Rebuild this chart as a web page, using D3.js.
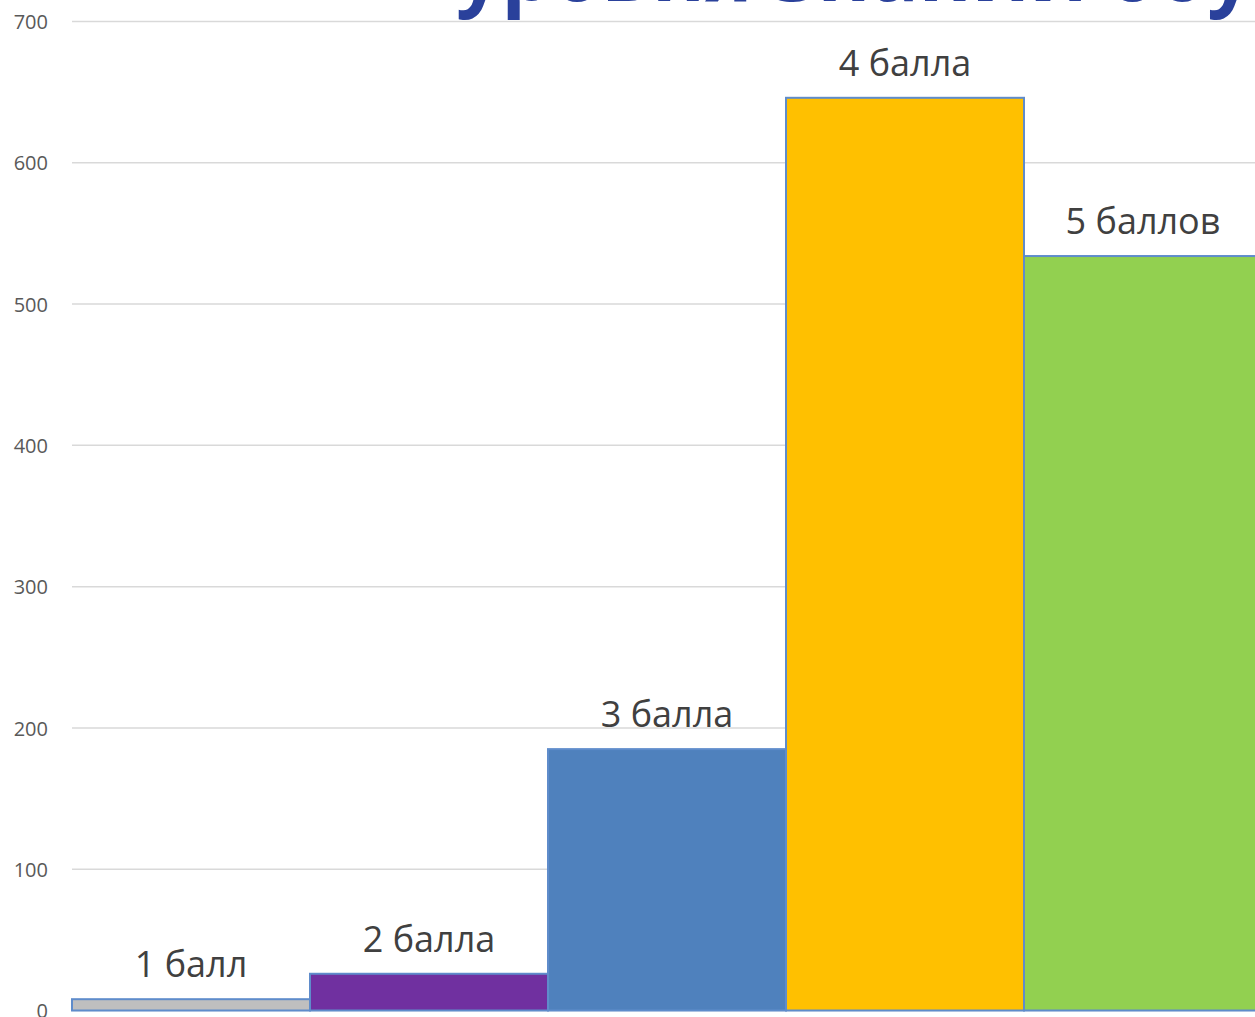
<!DOCTYPE html>
<html><head><meta charset="utf-8">
<script src="https://cdn.jsdelivr.net/npm/d3@7"></script>
<style>html,body{margin:0;padding:0;background:#fff;overflow:hidden}</style>
</head><body>
<svg id="c" width="1255" height="1017"></svg>
<script>
const categories = ["1 балл", "2 балла", "3 балла", "4 балла", "5 баллов"];
const values = [8, 26, 185, 646, 534];
const colors = ["#bfbfbf", "#7030a0", "#4f81bd", "#ffc000", "#92d050"];
const yTicks = [0, 100, 200, 300, 400, 500, 600, 700];
const titleText = "уровня знаний обу";

const svg = d3.select("#c");
const left = 72, bandW = 238;
const x = d3.scaleBand().domain(categories).range([left, left + bandW * categories.length]).padding(0);
const y = d3.scaleLinear().domain([0, 700]).range([1010.5, 21.5]);

// gridlines
svg.append("g").selectAll("line").data(yTicks).join("line")
  .attr("x1", left).attr("x2", 1255)
  .attr("y1", d => y(d)).attr("y2", d => y(d))
  .attr("stroke", "#d9d9d9").attr("stroke-width", 1.5);

// y axis labels
const yAxis = d3.axisLeft(y).tickValues(yTicks).tickSize(0).tickPadding(0);
const ga = svg.append("g").attr("transform", "translate(48,0)").call(yAxis);
ga.select(".domain").remove();
ga.selectAll("text").attr("font-family", "Open Sans, sans-serif").attr("font-size", 20)
  .attr("fill", "#595959").attr("text-anchor", "end").attr("dy", "0.36em");

// title (partially cut off at top)
svg.append("text").attr("x", 456).attr("y", 1)
  .attr("font-family", "Open Sans, sans-serif").attr("font-weight", 700)
  .attr("font-size", 80).attr("fill", "#2a419b").text(titleText);

// bars
svg.append("g").selectAll("rect").data(values).join("rect")
  .attr("x", (d, i) => x(categories[i]))
  .attr("y", d => y(d))
  .attr("width", x.bandwidth())
  .attr("height", d => y(0) - y(d))
  .attr("fill", (d, i) => colors[i])
  .attr("stroke", "#5f8ccb").attr("stroke-width", 2);

// labels
svg.append("g").selectAll("text").data(values).join("text")
  .attr("x", (d, i) => x(categories[i]) + x.bandwidth() / 2)
  .attr("y", d => y(d) - 22)
  .attr("text-anchor", "middle")
  .attr("font-family", "Open Sans, sans-serif").attr("font-size", 36)
  .attr("fill", "#404040")
  .text((d, i) => categories[i]);
</script>
</body></html>
